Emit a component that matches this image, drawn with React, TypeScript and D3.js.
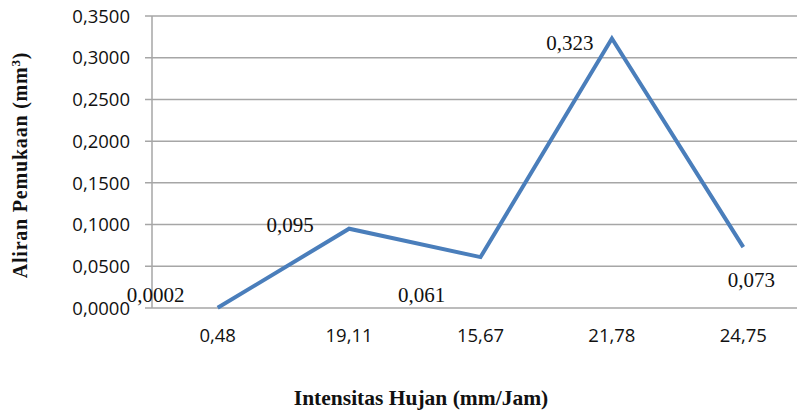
import React from "react";
import * as d3 from "d3";

const categories = ["0,48", "19,11", "15,67", "21,78", "24,75"];
const values = [0.0002, 0.095, 0.061, 0.323, 0.073];
const valueLabels = ["0,0002", "0,095", "0,061", "0,323", "0,073"];
const yTicks = [0, 0.05, 0.1, 0.15, 0.2, 0.25, 0.3, 0.35];
const yTitle = "Aliran Pemukaan (mm";
const xTitle = "Intensitas Hujan (mm/Jam)";

// label offsets relative to point (dx, dy)
const labelOffsets: [number, number][] = [
  [-62, -13],
  [-59, -4],
  [-59, 38],
  [-42, 4],
  [8, 33],
];

export default function App() {
  const W = 797, H = 413;
  const left = 152, right = 809, top = 16, bottom = 308;
  const x = d3.scaleBand<string>().domain(categories).range([left, right]);
  const y = d3.scaleLinear().domain([0, 0.35]).range([bottom, top]);
  const line = d3
    .line<number>()
    .x((_, i) => (x(categories[i]) as number) + x.bandwidth() / 2)
    .y((d) => y(d));
  const fmt = (v: number) => d3.format(".4f")(v).replace(".", ",");
  const sans = "'Open Sans', sans-serif";
  const serif = "'Liberation Serif', 'Times New Roman', serif";
  return (
    <svg width={W} height={H} style={{ position: "absolute", left: 0, top: 0, background: "#fff" }}>
      {yTicks.map((t) => (
        <g key={t}>
          <line x1={left - 7} x2={W} y1={y(t)} y2={y(t)} stroke="#a6a6a6" strokeWidth={1.5} />
          <text x={130} y={y(t)} dy="0.36em" textAnchor="end" fontFamily={sans} fontSize={18.5} fill="#111">
            {fmt(t)}
          </text>
        </g>
      ))}
      <line x1={left} x2={left} y1={top} y2={bottom} stroke="#a6a6a6" strokeWidth={1.5} />
      {categories.map((c) => (
        <text key={c} x={(x(c) as number) + x.bandwidth() / 2} y={342} textAnchor="middle" fontFamily={sans} fontSize={18.5} fill="#111">
          {c}
        </text>
      ))}
      <path d={line(values) || ""} fill="none" stroke="#4a7ebb" strokeWidth={4} strokeLinejoin="miter" />
      {values.map((v, i) => (
        <text
          key={i}
          x={(x(categories[i]) as number) + x.bandwidth() / 2 + labelOffsets[i][0]}
          y={y(v) + labelOffsets[i][1]}
          textAnchor="middle"
          dy="0.35em"
          fontFamily={serif}
          fontSize={21}
          fill="#111"
        >
          {valueLabels[i]}
        </text>
      ))}
      <text
        transform={`translate(27, ${(top + bottom) / 2 + 3}) rotate(-90)`}
        textAnchor="middle"
        fontFamily={serif}
        fontWeight="bold"
        fontSize={20}
        letterSpacing={0.8}
        fill="#111"
      >
        {yTitle}
        <tspan fontSize={13} dy={-7}>3</tspan>
        <tspan dy={7}>)</tspan>
      </text>
      <text x={421} y={405} textAnchor="middle" fontFamily={serif} fontWeight="bold" fontSize={21.5} fill="#111">
        {xTitle}
      </text>
    </svg>
  );
}
